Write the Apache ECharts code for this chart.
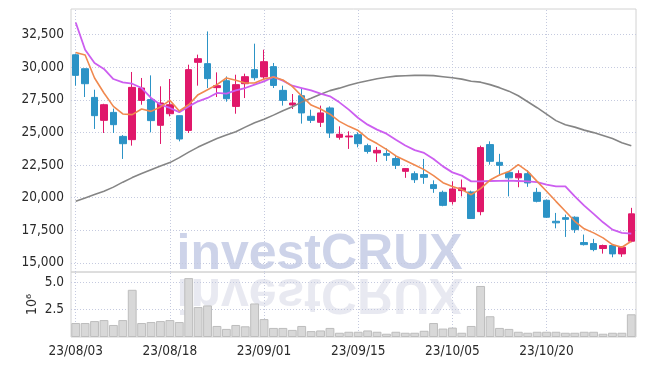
<!DOCTYPE html>
<html>
<head>
<meta charset="utf-8">
<script src="https://cdn.jsdelivr.net/npm/echarts@6/dist/echarts.min.js"></script>
<style>
  html, body { margin: 0; padding: 0; background: #fff; }
  #chart { width: 645px; height: 366px; }
</style>
</head>
<body>
<div id="chart"></div>
<script>
// trading days (label every 10th)
const dates = [
  "23/08/03","23/08/04","23/08/07","23/08/08","23/08/09","23/08/10","23/08/11","23/08/14","23/08/16","23/08/17",
  "23/08/18","23/08/21","23/08/22","23/08/23","23/08/24","23/08/25","23/08/28","23/08/29","23/08/30","23/08/31",
  "23/09/01","23/09/04","23/09/05","23/09/06","23/09/07","23/09/08","23/09/11","23/09/12","23/09/13","23/09/14",
  "23/09/15","23/09/18","23/09/19","23/09/20","23/09/21","23/09/22","23/09/25","23/09/26","23/09/27","23/10/04",
  "23/10/05","23/10/06","23/10/10","23/10/11","23/10/12","23/10/13","23/10/16","23/10/17","23/10/18","23/10/19",
  "23/10/20","23/10/23","23/10/24","23/10/25","23/10/26","23/10/27","23/10/30","23/10/31","23/11/01","23/11/02"
];
const xTickIdx = [0, 10, 20, 30, 40, 50];

const open = [
  30960,29890,27690,25930,26540,24700,24450,27460,27520,25550,
  26440,26290,25160,30380,30280,28440,28970,27000,28740,29820,
  29260,30050,28230,27110,27820,26240,25780,26880,24630,24660,
  24830,23990,23430,23380,23000,22020,21840,21770,21000,20410,
  19700,20540,20440,18930,24070,22710,21940,21520,21840,20410,
  19800,18190,18470,18500,16560,16480,16100,16330,15690,16660
];
const close = [
  29380,28740,26290,27130,25600,24140,28460,28410,25910,27260,
  27130,24500,29820,30660,29130,28590,27590,28670,29280,29200,
  30430,28610,27460,27260,26500,25930,26500,24960,24860,24730,
  24140,23550,23630,23250,22480,22230,21380,21560,20700,19410,
  20670,20750,18400,23840,22790,22480,21520,21840,21130,19720,
  18500,18070,18340,17550,16400,16020,16330,15690,16200,18760
];
const low = [
  28590,27720,25270,24960,24960,22970,23990,27130,25010,24120,
  26240,24320,24960,28590,28410,27720,27360,26440,27640,29000,
  29000,28410,27060,26800,25680,25730,25420,24580,24450,23740,
  23860,23380,22740,22820,22200,21520,21130,21060,20370,19340,
  19470,20100,18370,18650,22530,21690,20100,20800,20830,19640,
  18450,17650,16990,17300,16330,15890,15710,15430,15460,16580
];
const high = [
  31050,29900,28280,27200,26830,24800,29640,29180,29380,28540,
  29100,26300,30200,30970,32750,29610,29300,29430,29510,31810,
  31350,30330,28590,27950,28410,26750,27060,27000,25470,25090,
  25010,24140,23890,23780,23280,22270,22020,22970,21330,20540,
  21250,21390,20540,23990,24320,23360,22000,22100,22100,20750,
  19850,18830,18700,18570,17170,16840,16400,16450,16270,19220
];
// volume, millions of shares
const volume = [
  1.28,1.28,1.46,1.55,1.10,1.55,4.32,1.28,1.37,1.46,
  1.55,1.37,5.39,2.74,2.89,1.01,0.74,1.10,0.98,3.07,
  1.64,0.83,0.83,0.65,1.01,0.54,0.60,0.83,0.39,0.48,
  0.48,0.60,0.48,0.30,0.48,0.39,0.39,0.57,1.28,0.77,
  0.86,0.39,1.01,4.67,1.90,0.83,0.74,0.48,0.39,0.48,
  0.48,0.48,0.39,0.39,0.48,0.48,0.30,0.39,0.39,2.08
];
const ma5 = [
  31140,30940,29180,28030,27000,26420,26370,26800,26620,26960,
  27460,26650,27130,27900,28280,28670,29180,29000,28800,28800,
  29100,29260,29030,28540,27800,27100,26800,26400,25850,25470,
  25150,24540,24150,23700,23200,22850,22500,22150,21690,21150,
  20850,20620,20230,20700,21350,21740,22000,22530,22020,21250,
  20490,19720,18960,18190,17610,17300,16920,16400,16200,16660
];
const ma10 = [
  33440,31350,30330,29870,29100,28840,28740,28410,27650,27130,
  26880,26560,27000,27390,27650,28030,27980,28230,28410,28670,
  28920,29260,28980,28590,28410,28230,27980,27770,27310,26750,
  26110,25600,25220,24910,24450,24000,23650,23430,22970,22400,
  21940,21690,21250,21250,21280,21290,21310,21280,21250,21200,
  21000,20870,20870,20100,19390,18760,18110,17550,17300,17250
];
const maLong = [
  19720,19980,20240,20500,20810,21190,21540,21850,22150,22420,
  22690,23070,23490,23880,24220,24530,24800,25060,25410,25750,
  26020,26330,26670,26980,27330,27630,27940,28210,28400,28630,
  28820,28970,29120,29240,29320,29350,29380,29380,29360,29280,
  29200,29090,28930,28860,28670,28440,28170,27820,27360,26900,
  26410,25910,25600,25410,25180,24990,24760,24530,24220,23990
];
const priceTicks = [15000, 17500, 20000, 22500, 25000, 27500, 30000, 32500];
const volTicks = [2.5, 5.0];

const labelFont = "'Liberation Sans Narrow', 'DejaVu Sans Condensed', sans-serif";
const labelSize = 13.5;
const gridLine = { color: "#c5cadf", type: [1, 2], width: 1 };

function gridMarks(yValues) {
  return {
    silent: true,
    symbol: ["none", "none"],
    label: { show: false },
    emphasis: { disabled: true },
    lineStyle: gridLine,
    animation: false,
    z: 1,
    data: [
      ...yValues.map((v) => ({ yAxis: v })),
      ...xTickIdx.map((i) => ({ xAxis: dates[i] })),
    ],
  };
}

const chart = echarts.init(document.getElementById("chart"));

chart.setOption({
  animation: false,
  backgroundColor: "#fff",
  grid: [
    { left: 71, top: 9, width: 565, height: 263, show: true, borderColor: "#d2d2d2", borderWidth: 1 },
    { left: 71, top: 272, width: 565, height: 65, show: true, borderColor: "#d2d2d2", borderWidth: 1 },
  ],
  xAxis: [
    {
      type: "category", gridIndex: 0, data: dates,
      axisLine: { show: false }, axisTick: { show: false },
      axisLabel: { show: false }, splitLine: { show: false },
    },
    {
      type: "category", gridIndex: 1, data: dates,
      axisLine: { show: false }, axisTick: { show: false }, splitLine: { show: false },
      axisLabel: { interval: 9, color: "#2a2a2a", fontSize: labelSize, fontFamily: labelFont, margin: 7 },
    },
  ],
  yAxis: [
    {
      type: "value", gridIndex: 0, min: 14300, max: 34470,
      axisLine: { show: false }, axisTick: { show: false }, splitLine: { show: false },
      axisLabel: {
        customValues: priceTicks, color: "#2a2a2a", fontSize: labelSize, fontFamily: labelFont, margin: 7,
        formatter: (v) => v.toLocaleString("en-US"),
      },
    },
    {
      type: "value", gridIndex: 1, min: 0, max: 5.95,
      axisLine: { show: false }, axisTick: { show: false }, splitLine: { show: false },
      name: "10⁶", nameLocation: "middle", nameRotate: 90, nameGap: 32,
      nameMoveOverlap: false,
      nameTextStyle: { color: "#2a2a2a", fontSize: 14, fontFamily: labelFont },
      axisLabel: {
        customValues: volTicks, color: "#2a2a2a", fontSize: labelSize, fontFamily: labelFont, margin: 7,
        formatter: (v) => v.toFixed(1),
      },
    },
  ],
  graphic: [
    {
      type: "text", z: 0, x: 0, y: 0,
      style: {
        text: "investCRUX", x: 176.5, y: 255, verticalAlign: "middle",
        font: "bold 50px 'Liberation Sans', Arial, sans-serif",
        fill: "rgba(175,184,220,0.62)",
      },
    },
    {
      type: "text", z: 0, x: 0, y: 548, scaleY: -1,
      style: {
        text: "investCRUX", x: 176.5, y: 255, verticalAlign: "middle",
        font: "bold 50px 'Liberation Sans', Arial, sans-serif",
        fill: "rgba(200,203,222,0.42)",
      },
    },
  ],
  series: [
    {
      type: "candlestick", xAxisIndex: 0, yAxisIndex: 0, z: 3,
      barWidth: 7,
      data: dates.map((d, i) => [open[i], close[i], low[i], high[i]]),
      itemStyle: {
        color: "#e0186a", color0: "#2c93c6",
        borderColor: "#e0186a", borderColor0: "#2c93c6", borderWidth: 1,
      },
      markLine: gridMarks(priceTicks),
    },
    {
      type: "line", xAxisIndex: 0, yAxisIndex: 0, z: 4, data: maLong,
      showSymbol: false, lineStyle: { color: "#858585", width: 1.6 },
    },
    {
      type: "line", xAxisIndex: 0, yAxisIndex: 0, z: 4, data: ma10,
      showSymbol: false, lineStyle: { color: "#cc5ef0", width: 1.8 },
    },
    {
      type: "line", xAxisIndex: 0, yAxisIndex: 0, z: 5, data: ma5,
      showSymbol: false, lineStyle: { color: "#f0894f", width: 1.6 },
    },
    {
      type: "bar", xAxisIndex: 1, yAxisIndex: 1, z: 3, data: volume,
      barCategoryGap: "6%",
      itemStyle: { color: "#d8d8d8", borderColor: "#bdbdbd", borderWidth: 1 },
      markLine: gridMarks(volTicks),
    },
  ],
});
</script>
</body>
</html>
